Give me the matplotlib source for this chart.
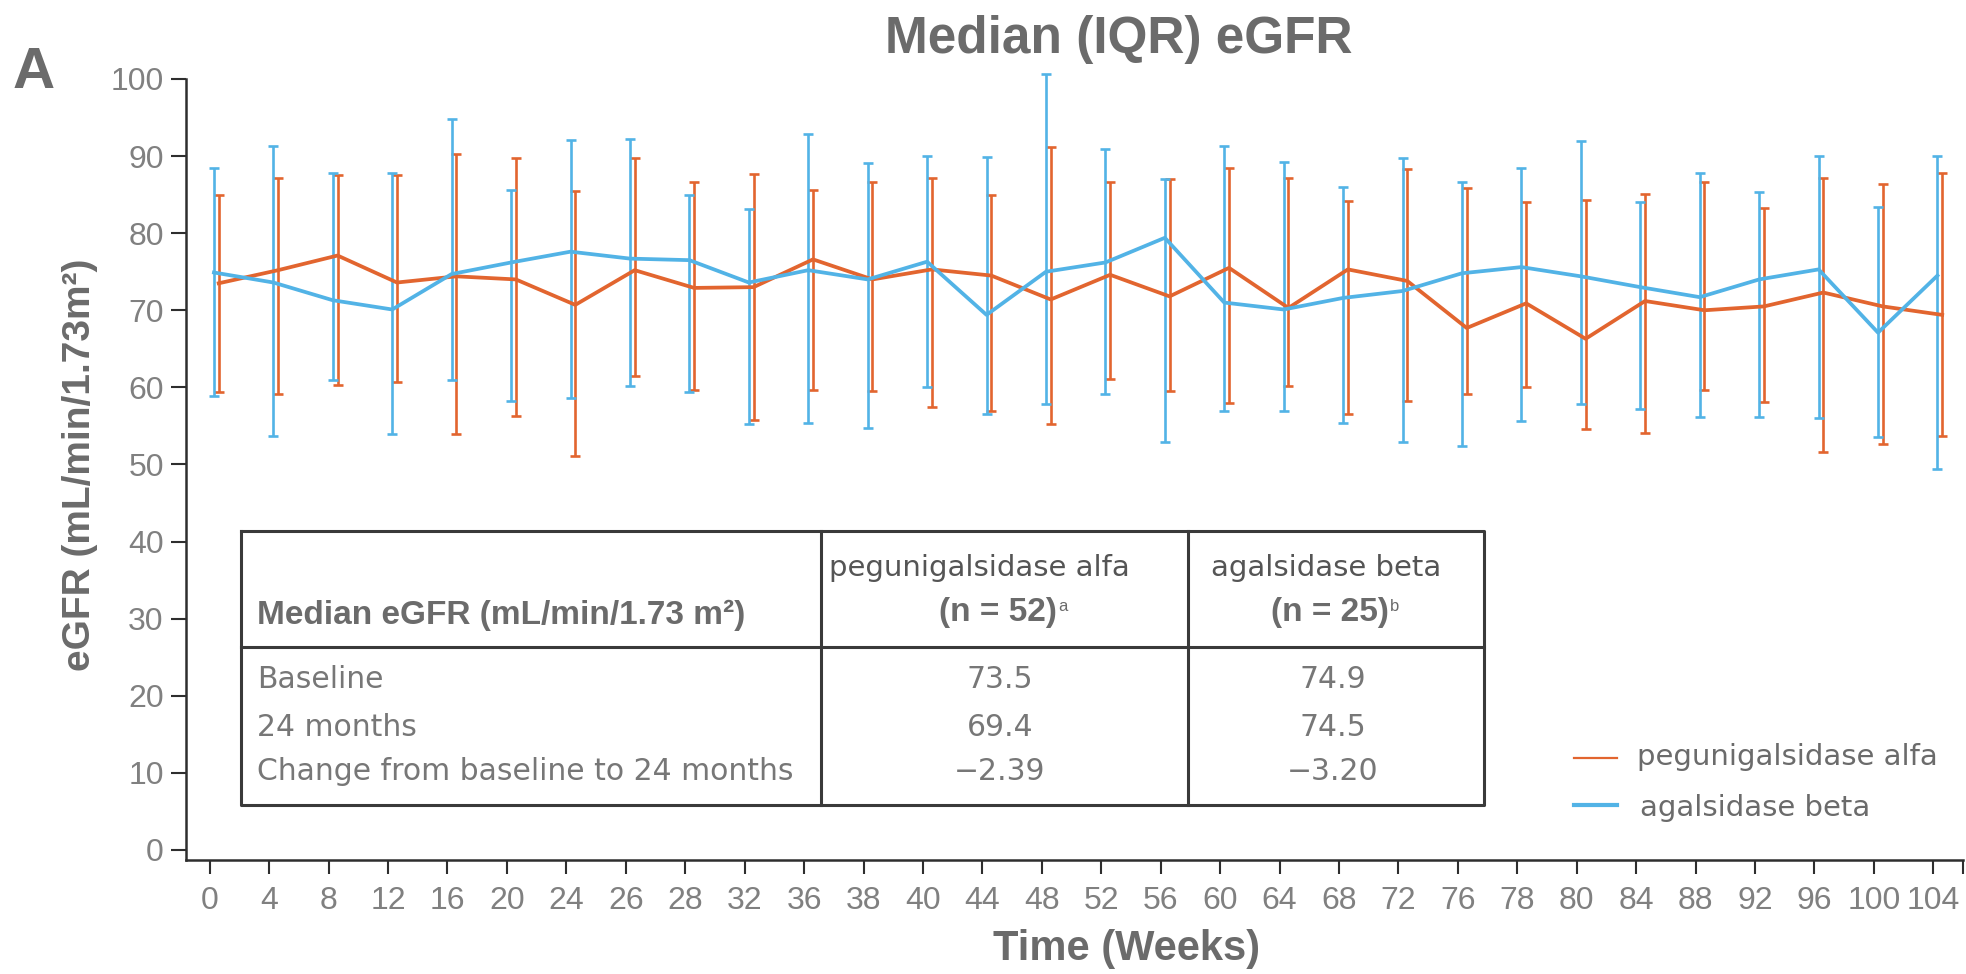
import matplotlib
matplotlib.use('Agg')
import matplotlib.pyplot as plt
from matplotlib.lines import Line2D

# Median (IQR) eGFR by visit
weeks = ['0', '4', '8', '12', '16', '20', '24', '26', '28', '32', '36', '38', '40', '44', '48',
         '52', '56', '60', '64', '68', '72', '76', '78', '80', '84', '88', '92', '96', '100', '104']

pegu_median = [73.5, 75.2, 77.1, 73.6, 74.4, 74.0, 70.7, 75.2, 72.9, 73.0, 76.6, 74.0, 75.3, 74.5, 71.4,
               74.6, 71.8, 75.5, 70.3, 75.3, 73.8, 67.7, 70.9, 66.3, 71.2, 70.0, 70.5, 72.3, 70.5, 69.4]
pegu_q1 = [59.4, 59.1, 60.3, 60.7, 54.0, 56.3, 51.1, 61.5, 59.7, 55.8, 59.6, 59.5, 57.5, 56.9, 55.2,
           61.1, 59.5, 58.0, 60.2, 56.6, 58.2, 59.2, 60.0, 54.6, 54.1, 59.7, 58.1, 51.6, 52.6, 53.7]
pegu_q3 = [84.9, 87.1, 87.6, 87.5, 90.3, 89.7, 85.5, 89.8, 86.7, 87.7, 85.6, 86.6, 87.2, 84.9, 91.2,
           86.6, 87.0, 88.4, 87.1, 84.2, 88.3, 85.9, 84.0, 84.3, 85.1, 86.6, 83.3, 87.1, 86.4, 87.8]

aga_median = [74.9, 73.6, 71.3, 70.1, 74.7, 76.2, 77.6, 76.7, 76.5, 73.6, 75.2, 74.0, 76.3, 69.4, 75.0,
              76.2, 79.4, 71.0, 70.1, 71.6, 72.5, 74.8, 75.6, 74.4, 73.0, 71.7, 74.0, 75.3, 67.1, 74.5]
aga_q1 = [58.9, 53.7, 61.0, 54.0, 61.0, 58.2, 58.6, 60.2, 59.4, 55.2, 55.4, 54.7, 60.0, 56.6, 57.8,
          59.2, 52.9, 57.0, 56.9, 55.4, 52.9, 52.4, 55.6, 57.8, 57.2, 56.2, 56.2, 56.0, 53.5, 49.4]
aga_q3 = [88.4, 91.3, 87.8, 87.8, 94.8, 85.6, 92.1, 92.2, 84.9, 83.1, 92.8, 89.1, 90.0, 89.9, 100.7,
          90.9, 87.0, 91.3, 89.2, 86.0, 89.7, 86.6, 88.4, 91.9, 84.1, 87.8, 85.3, 90.0, 83.4, 90.0]

series_names = ['pegunigalsidase alfa', 'agalsidase beta']

# inset table
table_rows = ['Baseline', '24 months', 'Change from baseline to 24 months']
pegu_table = ['73.5', '69.4', '\u22122.39']
aga_table = ['74.9', '74.5', '\u22123.20']
n_labels = [('(n = 52)', 'a'), ('(n = 25)', 'b')]

ORANGE = '#E2652F'
BLUE = '#52B3E6'
GREY = '#6b6b6b'
TICKGREY = '#808080'
DARK = '#2e2e2e'

W, H = 1966, 974


def fx(px):
    return px / W


def fy(py):
    return 1 - py / H


fig = plt.figure(figsize=(W / 100, H / 100), dpi=100)

# main axes placed so that the spines land where they sit in the reference
ax = fig.add_axes([fx(186), fy(860), fx(1963 - 186), (860 - 67.4) / H])
x = list(range(len(weeks)))
x_pegu = [i + 0.15 for i in x]
x_aga = [i + 0.07 for i in x]

pegu_err = [[m - lo for m, lo in zip(pegu_median, pegu_q1)],
            [hi - m for m, hi in zip(pegu_median, pegu_q3)]]
aga_err = [[m - lo for m, lo in zip(aga_median, aga_q1)],
           [hi - m for m, hi in zip(aga_median, aga_q3)]]

ax.errorbar(x_pegu, pegu_median, yerr=pegu_err, fmt='none', ecolor=ORANGE,
            elinewidth=1.9, capsize=3.5, capthick=1.9, clip_on=False, zorder=2)
ax.errorbar(x_aga, aga_median, yerr=aga_err, fmt='none', ecolor=BLUE,
            elinewidth=1.9, capsize=3.5, capthick=1.9, clip_on=False, zorder=2)
ax.plot(x_pegu, pegu_median, color=ORANGE, lw=2.7, zorder=3)
ax.plot(x_aga, aga_median, color=BLUE, lw=2.7, zorder=4)

ax.set_xlim(-0.4, 29.5)
ax.set_ylim(-1.3, 101.5)
ax.set_xticks(x)
ax.set_xticklabels(weeks)
ax.set_xticks([29.5], minor=True)
ax.set_yticks(range(0, 101, 10))

for side in ['top', 'right']:
    ax.spines[side].set_visible(False)
for side in ['left', 'bottom']:
    ax.spines[side].set_color(DARK)
    ax.spines[side].set_linewidth(1.8)
ax.spines['left'].set_bounds(-1.3, 100)

ax.tick_params(axis='x', which='both', length=10, width=1.5, color=DARK, pad=9,
               labelsize=23, labelcolor=TICKGREY)
ax.tick_params(axis='y', length=11, width=1.5, color=DARK, pad=5,
               labelsize=23, labelcolor=TICKGREY)
for lab in ax.get_xticklabels() + ax.get_yticklabels():
    lab.set_family('Liberation Sans')

# titles and axis labels
fig.text(fx(1119), fy(53), 'Median (IQR) eGFR', family='Liberation Sans', weight='bold',
         fontsize=37, color=GREY, ha='center', va='baseline')
fig.text(fx(13), fy(88), 'A', family='Liberation Sans', weight='bold',
         fontsize=42, color=GREY, ha='left', va='baseline')
fig.text(fx(80), fy(465), 'eGFR (mL/min/1.73m\u00b2)', family='Liberation Sans', weight='bold',
         fontsize=28, color=GREY, rotation=90, ha='center', va='center')
fig.text(fx(1127), fy(960), 'Time (Weeks)', family='Liberation Sans', weight='bold',
         fontsize=30, color=GREY, ha='center', va='baseline')

# legend
leg_lines = [(758, ORANGE, 1.6), (805, BLUE, 3.0)]
leg_text = [(1637, 757), (1640, 808)]
for (ly, col, lw), (tx, ty), name in zip(leg_lines, leg_text, series_names):
    fig.add_artist(Line2D([fx(1574), fx(1617)], [fy(ly), fy(ly)], color=col, lw=lw,
                          transform=fig.transFigure))
    fig.text(fx(tx), fy(ty), name, family='DejaVu Sans', fontsize=21, color=GREY,
             ha='left', va='center')

# table drawn in its own axes, in pixel units of the reference
L, R, T, B = 241, 1484.5, 531, 805
C1, C2, HS = 821, 1188.5, 646.5
tab = fig.add_axes([fx(L), fy(B), fx(R - L), (B - T) / H])
tab.set_xlim(L, R)
tab.set_ylim(B, T)
tab.axis('off')
border = dict(color='#3a3a3a', lw=2.2, clip_on=False, solid_capstyle='projecting')
tab.plot([L, R, R, L, L], [T, T, B, B, T], **border)
tab.plot([C1, C1], [T, B], **border)
tab.plot([C2, C2], [T, B], **border)
tab.plot([L, R], [HS, HS], **border)

tab.text(257, 615, 'Median eGFR (mL/min/1.73 m\u00b2)', family='Liberation Sans', weight='bold',
         fontsize=24, color=GREY, ha='left', va='center')
tab.text(829, 568, series_names[0], family='DejaVu Sans', fontsize=21, color='#555555',
         ha='left', va='center')
tab.text(1211, 568, series_names[1], family='DejaVu Sans', fontsize=21, color='#555555',
         ha='left', va='center')
for cx, (main, sup) in zip([998, 1330], n_labels):
    t = tab.text(cx, 613, main, family='Liberation Sans', weight='bold',
                 fontsize=24, color=GREY, ha='center', va='center')
    tab.annotate(sup, xy=(1.0, 0.95), xycoords=t, xytext=(1, 0), textcoords='offset points',
                 family='Liberation Sans', fontsize=12, color=GREY, ha='left', va='top')

row_y = [680, 727, 772]
for ry, label, pv, av in zip(row_y, table_rows, pegu_table, aga_table):
    tab.text(257, ry, label, family='DejaVu Sans', fontsize=21.5, color='#777777',
             ha='left', va='center')
    tab.text(1000, ry, pv, family='DejaVu Sans', fontsize=21.5, color='#777777',
             ha='center', va='center')
    tab.text(1333, ry, av, family='DejaVu Sans', fontsize=21.5, color='#777777',
             ha='center', va='center')

fig.savefig('out.png', dpi=100)
